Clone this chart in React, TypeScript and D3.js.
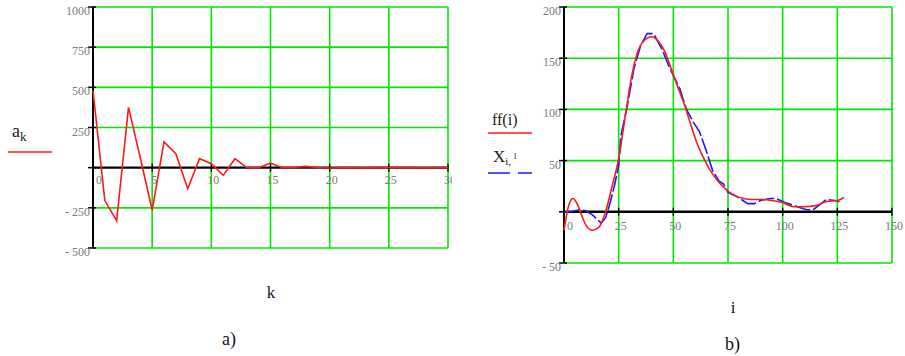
import React from "react";
import * as d3 from "d3";

// chart a) : coefficients a_k, k = 0..30
const kValues = d3.range(0, 31);
const aK = [480, -205, -330, 375, 60, -265, 160, 87, -131, 56, 25, -48, 56, 0, 0, 29, 0, 2, 8, 0, -2, 1, 0, -1, 2, 0, 0, 1, -1, 0, 0];
const aXTicks = [0, 5, 10, 15, 20, 25, 30];
const aYTicks = [1000, 750, 500, 250, 0, -250, -500];

// chart b) : ff(i) (smooth) and X(i,1) (measured)
const ffI = [0, 2, 4, 6, 8, 10, 13, 16, 19, 22, 25, 28, 31, 34, 37, 40, 43, 46, 49, 52, 55, 58, 61, 64, 67, 70, 74, 78, 82, 86, 90, 95, 100, 105, 110, 115, 120, 125, 128];
const ffVal = [-18, 5, 13, 8, -3, -13, -18, -15, 0, 25, 52, 93, 133, 158, 168, 171, 167, 157, 140, 122, 105, 85, 66, 52, 40, 31, 22, 16, 13, 12, 12, 11, 9, 5, 5, 6, 10, 11, 14];
const xI = [0, 3, 7, 10, 13, 17, 19, 21, 23, 25, 26, 29, 32, 35, 38, 41, 45, 48, 53, 56, 59, 62, 65, 68, 71, 73, 75, 79, 84, 87, 90, 94, 97, 101, 104, 108, 111, 114, 117, 120, 124, 126];
const xVal = [0, 0, 2, 1, -3, -11, -6, 8, 25, 45, 74, 104, 140, 162, 174, 174, 158, 142, 120, 100, 88, 78, 60, 40, 30, 27, 19, 15, 8, 8, 11, 13, 13, 9, 7, 4, 2, 2, 7, 12, 11, 10];
const bXTicks = [0, 25, 50, 75, 100, 125, 150];
const bYTicks = [200, 150, 100, 50, 0, -50];

const GREEN = "#00e800";
const SERIF = "'Liberation Serif', 'DejaVu Serif', serif";

function tickText(v: number) {
  return v < 0 ? "- " + Math.abs(v) : String(v);
}

function Panel(props: {
  x: d3.ScaleLinear<number, number>;
  y: d3.ScaleLinear<number, number>;
  xTicks: number[];
  yTicks: number[];
  labelDy: number;
  clipId: string;
  clipRight: number;
  children?: React.ReactNode;
}) {
  const { x, y, xTicks, yTicks, labelDy, clipId, clipRight } = props;
  const [x0, x1] = x.range();
  const [y0, y1] = y.range(); // y0 bottom, y1 top
  const zero = y(0);
  return (
    <g>
      <defs>
        <clipPath id={clipId}>
          <rect x={0} y={0} width={clipRight} height={400} />
        </clipPath>
      </defs>
      {/* green grid */}
      {xTicks.filter((t) => t !== 0).map((t) => (
        <line key={"gx" + t} x1={x(t)} x2={x(t)} y1={y1} y2={y0} stroke={GREEN} strokeWidth={1.6} />
      ))}
      {yTicks.filter((t) => t !== 0).map((t) => (
        <line key={"gy" + t} x1={x0} x2={x1} y1={y(t)} y2={y(t)} stroke={GREEN} strokeWidth={1.6} />
      ))}
      {/* axes */}
      <line x1={x0} x2={x1} y1={zero} y2={zero} stroke="#000" strokeWidth={2.4} />
      <line x1={x0} x2={x0} y1={y1} y2={y0} stroke="#000" strokeWidth={2} />
      {yTicks.map((t) => (
        <line key={"ty" + t} x1={x0 - 5} x2={x0 + 3} y1={y(t)} y2={y(t)} stroke="#000" strokeWidth={1.5} />
      ))}
      {xTicks.map((t) => (
        <line key={"tx" + t} x1={x(t)} x2={x(t)} y1={zero - 4} y2={zero + 4} stroke="#000" strokeWidth={1.3} />
      ))}
      {/* tick labels */}
      {yTicks.filter((t) => t !== 0).map((t) => (
        <text key={"ly" + t} x={x0 - 3} y={y(t) + 8} textAnchor="end" fontFamily={SERIF} fontSize={12} fill="#7a7a7a">
          {tickText(t)}
        </text>
      ))}
      <g clipPath={`url(#${clipId})`}>
        {xTicks.map((t) => (
          <text
            key={"lx" + t}
            x={t === 0 ? x(t) + 3 : x(t) + 2}
            y={zero + labelDy}
            textAnchor={t === 0 ? "start" : "middle"}
            fontFamily={SERIF}
            fontSize={12}
            fill="#7a7a7a"
          >
            {t}
          </text>
        ))}
      </g>
      {props.children}
    </g>
  );
}

export default function App() {
  const xa = d3.scaleLinear().domain([0, 30]).range([93, 448]);
  const ya = d3.scaleLinear().domain([-500, 1000]).range([248, 7]);
  const xb = d3.scaleLinear().domain([0, 150]).range([564, 892]);
  const yb = d3.scaleLinear().domain([-50, 200]).range([263, 7]);

  const lineA = d3
    .line<number>()
    .x((d, i) => xa(kValues[i]))
    .y((d) => ya(d));
  const lineFF = d3
    .line<number>()
    .x((d, i) => xb(ffI[i]))
    .y((d) => yb(d))
    .curve(d3.curveMonotoneX);
  const lineX = d3
    .line<number>()
    .x((d, i) => xb(xI[i]))
    .y((d) => yb(d));

  return (
    <svg width={905} height={356} style={{ position: "absolute", left: 0, top: 0, background: "#fff" }}>
      <Panel x={xa} y={ya} xTicks={aXTicks} yTicks={aYTicks} labelDy={16} clipId="clipA" clipRight={452}>
        <path d={lineA(aK) || ""} fill="none" stroke="#ff1a1a" strokeWidth={1.6} />
      </Panel>
      <Panel x={xb} y={yb} xTicks={bXTicks} yTicks={bYTicks} labelDy={18} clipId="clipB" clipRight={905}>
        <path d={lineX(xVal) || ""} fill="none" stroke="#1a1aff" strokeWidth={1.6} strokeDasharray="16 3" />
        <path d={lineFF(ffVal) || ""} fill="none" stroke="#ff1a1a" strokeWidth={1.6} />
      </Panel>

      {/* legend a */}
      <text x={12} y={137} fontFamily={SERIF} fontSize={18} fill="#222">
        a<tspan fontSize={13} dy={4}>k</tspan>
      </text>
      <line x1={8} x2={52} y1={152} y2={152} stroke="#ff1a1a" strokeWidth={1.5} />

      {/* legend b */}
      <text x={492} y={125} fontFamily={SERIF} fontSize={16} fill="#222">ff(i)</text>
      <line x1={488} x2={532} y1={133} y2={133} stroke="#ff1a1a" strokeWidth={1.5} />
      <text x={493} y={162} fontFamily={SERIF} fontSize={17} fill="#222">
        X<tspan fontSize={11} dy={3}>i,</tspan>
        <tspan fontSize={8} dy={-6} dx={2}>1</tspan>
      </text>
      <line x1={488} x2={532} y1={173} y2={173} stroke="#1a1aff" strokeWidth={1.5} strokeDasharray="22 8" />

      {/* axis titles */}
      <text x={271} y={298} textAnchor="middle" fontFamily={SERIF} fontSize={17} fill="#111">k</text>
      <text x={733} y={313} textAnchor="middle" fontFamily={SERIF} fontSize={17} fill="#111">i</text>
      <text x={222} y={345} fontFamily={SERIF} fontSize={18} fill="#111">a)</text>
      <text x={725} y={350} fontFamily={SERIF} fontSize={18} fill="#111">b)</text>
    </svg>
  );
}
